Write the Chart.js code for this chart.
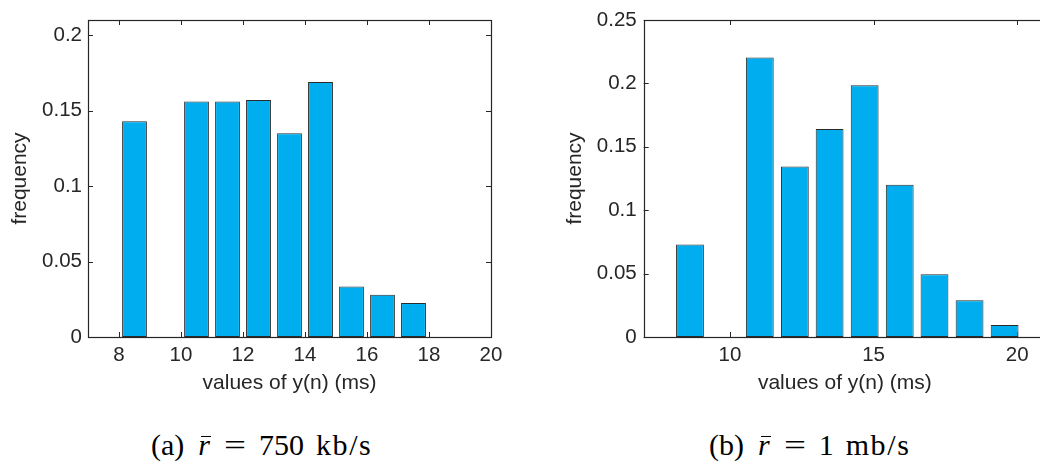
<!DOCTYPE html>
<html>
<head>
<meta charset="utf-8">
<script src="https://cdn.jsdelivr.net/npm/chart.js@4"></script>
<style>
  html, body { margin: 0; padding: 0; background: #fff; overflow: hidden; width: 1040px; height: 468px; }
  #wrapA { position: absolute; left: 0; top: 0; }
  #wrapB { position: absolute; left: 520px; top: 0; }
  .cap { position: absolute; top: 430px; font-family: "Liberation Serif", serif; font-size: 30px; line-height: 30px; color: #000; white-space: nowrap; }
  .cap span { display: inline-block; }
  .cap .r { margin-left: 14px; position: relative; font-style: italic; }
  .cap .r .bar { position: absolute; left: 3px; top: 6px; width: 10px; height: 0; border-top: 1.4px solid #000; }
  .cap .eq { margin-left: 14px; width: 22px; text-align: center; transform: scaleX(1.3); }
  .cap .num { margin-left: 13px; }
  .cap .unit { margin-left: 12px; letter-spacing: 1.6px; }
</style>
</head>
<body>
<div id="wrapA"><canvas id="histA" width="520" height="400"></canvas></div>
<div id="wrapB"><canvas id="histB" width="555" height="400"></canvas></div>
<div class="cap" style="left:151px"><span>(a)</span><span class="r">r<span class="bar"></span></span><span class="eq">=</span><span class="num">750</span><span class="unit">kb/s</span></div>
<div class="cap" style="left:709px"><span>(b)</span><span class="r">r<span class="bar"></span></span><span class="eq">=</span><span class="num">1</span><span class="unit">mb/s</span></div>

<script>
// (a) r = 750 kb/s
const binsA = [8.5, 9.5, 10.5, 11.5, 12.5, 13.5, 14.5, 15.5, 16.5, 17.5];
const freqA = [0.143, 0, 0.156, 0.156, 0.157, 0.135, 0.169, 0.0335, 0.028, 0.0225];
const xTicksA = [8, 10, 12, 14, 16, 18, 20];
const yTicksA = [0, 0.05, 0.1, 0.15, 0.2];

// (b) r = 1 mb/s
const binsB = [8.61, 9.82, 11.04, 12.26, 13.47, 14.69, 15.91, 17.12, 18.34, 19.56];
const freqB = [0.073, 0, 0.2205, 0.1345, 0.164, 0.1985, 0.120, 0.0495, 0.029, 0.0095];
const xTicksB = [10, 15, 20];
const yTicksB = [0, 0.05, 0.1, 0.15, 0.2, 0.25];

const ink = '#262626';
const barFill = '#00aeef';
const barEdge = '#2b2b2b';

// matlab-ish box with inward ticks
const boxPlugin = {
  id: 'box',
  beforeDatasetsDraw(chart) {
    const { ctx, chartArea: a, scales: { x, y } } = chart;
    ctx.save();
    ctx.strokeStyle = ink;
    ctx.lineWidth = 1;
    ctx.beginPath();
    x.ticks.forEach(t => {
      const p = Math.round(x.getPixelForValue(t.value)) + 0.5;
      ctx.moveTo(p, a.bottom); ctx.lineTo(p, a.bottom - 5);
      ctx.moveTo(p, a.top); ctx.lineTo(p, a.top + 5);
    });
    y.ticks.forEach(t => {
      const p = Math.round(y.getPixelForValue(t.value)) + 0.5;
      ctx.moveTo(a.left, p); ctx.lineTo(a.left + 5, p);
      ctx.moveTo(a.right, p); ctx.lineTo(a.right - 5, p);
    });
    ctx.stroke();
    ctx.restore();
  },
  afterDatasetsDraw(chart) {
    const { ctx, chartArea: a } = chart;
    ctx.save();
    ctx.strokeStyle = ink;
    ctx.lineWidth = 1.2;
    ctx.strokeRect(Math.round(a.left) + 0.5, Math.round(a.top) + 0.5,
      Math.round(a.right - a.left), Math.round(a.bottom - a.top));
    ctx.restore();
  }
};

function makeHist(id, bins, freq, xTicks, yTicks, xMax, yMax, yWidth, yTitlePad, yTickPad) {
  const fmt = v => String(+Number(v).toFixed(3));
  return new Chart(document.getElementById(id), {
    type: 'bar',
    data: {
      datasets: [{
        data: bins.map((b, i) => ({ x: b, y: freq[i] })),
        backgroundColor: barFill,
        borderColor: barEdge,
        borderWidth: 1,
        borderSkipped: false,
        barPercentage: 0.8,
        categoryPercentage: 1
      }]
    },
    options: {
      responsive: false,
      animation: false,
      devicePixelRatio: 1,
      layout: { padding: { top: 20, right: 29, left: 0, bottom: 0 } },
      plugins: { legend: { display: false }, tooltip: { enabled: false } },
      scales: {
        x: {
          type: 'linear',
          min: 7,
          max: xMax,
          offset: false,
          grid: { display: false, drawTicks: false },
          border: { display: false },
          afterBuildTicks: s => { s.ticks = xTicks.map(v => ({ value: v })); },
          afterFit: s => { s.height = 63; },
          ticks: { color: ink, padding: 6, font: { family: 'Liberation Sans', size: 20.5 }, callback: fmt },
          title: { display: true, text: 'values of y(n) (ms)', color: ink, padding: { top: 0, bottom: 4.4 },
                   font: { family: 'Liberation Sans', size: 21 } }
        },
        y: {
          min: 0,
          max: yMax,
          grid: { display: false, drawTicks: false },
          border: { display: false },
          afterBuildTicks: s => { s.ticks = yTicks.map(v => ({ value: v })); },
          afterFit: s => { s.width = yWidth; },
          ticks: { color: ink, padding: yTickPad, font: { family: 'Liberation Sans', size: 20.5 }, callback: fmt },
          title: { display: true, text: 'frequency', color: ink, padding: { top: yTitlePad, bottom: 0 },
                   font: { family: 'Liberation Sans', size: 21 } }
        }
      }
    },
    plugins: [boxPlugin]
  });
}

makeHist('histA', binsA, freqA, xTicksA, yTicksA, 20, 0.21, 88, 8, 6);
makeHist('histB', binsB, freqB, xTicksB, yTicksB, 21, 0.25, 123.7, 42.4, 7);
</script>
</body>
</html>
